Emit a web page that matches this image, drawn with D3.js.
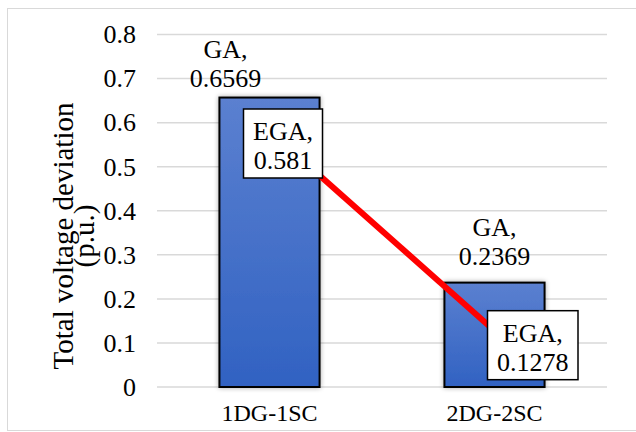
<!DOCTYPE html>
<html>
<head>
<meta charset="utf-8">
<script src="https://cdn.jsdelivr.net/npm/d3@7"></script>
</head>
<body style="margin:0;padding:0;background:#fff">
<svg id="chart" width="636" height="432"></svg>
<script>
// Data
const categories = ["1DG-1SC", "2DG-2SC"];
const gaValues = [0.6569, 0.2369];
const egaValues = [0.581, 0.1278];
const yTicks = [0, 0.1, 0.2, 0.3, 0.4, 0.5, 0.6, 0.7, 0.8];
const gaName = "GA";
const egaName = "EGA";
const yTitleLines = ["Total voltage deviation", "(p.u.)"];

// Label placement (offsets from the mark, in px)
const gaLabelDx = [-44, 0];
const gaLabelGap = [11, 18];
const egaBoxDx = [-26, -7];
const egaBoxDy = [-22, -20];

const FONT = "'Liberation Serif', 'Times New Roman', serif";
const plot = { left: 157, right: 607, top: 34.5, bottom: 387 };

const svg = d3.select("#chart").style("font-family", FONT);
const serif = sel => sel.style("font-family", FONT).style("fill", "#000");

// Outer frame
svg.append("rect")
  .attr("x", 7.5).attr("y", 8.5)
  .attr("width", 640).attr("height", 422)
  .attr("fill", "#fff").attr("stroke", "#d9d9d9").attr("stroke-width", 1);

const defs = svg.append("defs");
const grad = defs.append("linearGradient")
  .attr("id", "barGrad").attr("x1", 0).attr("y1", 0).attr("x2", 0).attr("y2", 1);
grad.append("stop").attr("offset", "0%").attr("stop-color", "#5b80d0");
grad.append("stop").attr("offset", "100%").attr("stop-color", "#3162c2");

const shadow = defs.append("filter").attr("id", "soft")
  .attr("x", "-20%").attr("y", "-20%").attr("width", "140%").attr("height", "140%");
shadow.append("feGaussianBlur").attr("in", "SourceAlpha").attr("stdDeviation", 2.5).attr("result", "b");
shadow.append("feComponentTransfer").attr("in", "b").attr("result", "s")
  .append("feFuncA").attr("type", "linear").attr("slope", 0.35);
const merge = shadow.append("feMerge");
merge.append("feMergeNode").attr("in", "s");
merge.append("feMergeNode").attr("in", "SourceGraphic");

const x = d3.scaleBand().domain(categories).range([plot.left, plot.right]).padding(0);
const y = d3.scaleLinear().domain([0, 0.8]).range([plot.bottom, plot.top]);
const barW = x.bandwidth() * 0.445;
const cx = c => x(c) + x.bandwidth() / 2;

// Gridlines
svg.append("g")
  .selectAll("line").data(yTicks).join("line")
  .attr("x1", plot.left).attr("x2", plot.right)
  .attr("y1", d => y(d)).attr("y2", d => y(d))
  .attr("stroke", "#d9d9d9").attr("stroke-width", 1.5);

// Y axis tick labels
const yAxis = d3.axisLeft(y).tickValues(yTicks)
  .tickFormat(d => d === 0 ? "0" : d3.format(".1f")(d))
  .tickSize(0).tickPadding(0);
const yg = svg.append("g").attr("transform", "translate(136,0)").call(yAxis);
yg.select(".domain").remove();
yg.selectAll("text").call(serif).style("font-size", "26px");

// Y axis title
const yTitle = svg.append("text")
  .attr("transform", "translate(73,236) rotate(-90)")
  .attr("text-anchor", "middle").call(serif).style("font-size", "29px");
yTitleLines.forEach((t, i) => {
  yTitle.append("tspan").attr("x", 0).attr("dy", i === 0 ? 0 : 21).text(t);
});

// Bars (GA)
svg.append("g").selectAll("rect").data(categories).join("rect")
  .attr("x", c => cx(c) - barW / 2)
  .attr("y", (c, i) => y(gaValues[i]))
  .attr("width", barW)
  .attr("height", (c, i) => y(0) - y(gaValues[i]))
  .attr("fill", "url(#barGrad)")
  .attr("stroke", "#000").attr("stroke-width", 2)
  .attr("filter", "url(#soft)");

// Category axis labels
const xAxis = d3.axisBottom(x).tickSize(0).tickPadding(0);
const xg = svg.append("g").attr("transform", "translate(0,404)").call(xAxis);
xg.select(".domain").remove();
xg.selectAll("text").call(serif).style("font-size", "24px");

// GA value labels
categories.forEach((c, i) => {
  const t = svg.append("text").attr("text-anchor", "middle").call(serif).style("font-size", "26px");
  const base = y(gaValues[i]) - gaLabelGap[i];
  t.append("tspan").attr("x", cx(c) + gaLabelDx[i]).attr("y", base - 29).text(gaName + ",");
  t.append("tspan").attr("x", cx(c) + gaLabelDx[i]).attr("y", base).text(String(gaValues[i]));
});

// EGA line
const line = d3.line().x((d, i) => cx(categories[i])).y(d => y(d));
svg.append("path").datum(egaValues)
  .attr("d", line)
  .attr("fill", "none").attr("stroke", "#ff0000").attr("stroke-width", 6);

// EGA value labels in boxes
categories.forEach((c, i) => {
  const px = cx(c), py = y(egaValues[i]);
  const g = svg.append("g").attr("transform", `translate(${px + egaBoxDx[i]},${py + egaBoxDy[i]})`);
  const valTxt = String(egaValues[i]);
  const tmp = g.append("text").call(serif).style("font-size", "26px").text(valTxt);
  const tw = Math.max(tmp.node().getComputedTextLength(), 60);
  tmp.remove();
  const bw = tw + 19, bh = 69;
  g.append("rect").attr("x", 0).attr("y", 0).attr("width", bw).attr("height", bh)
    .attr("fill", "#fff").attr("stroke", "#000").attr("stroke-width", 1.5);
  const t = g.append("text").attr("text-anchor", "middle").call(serif).style("font-size", "26px");
  t.append("tspan").attr("x", bw / 2).attr("y", 31).text(egaName + ",");
  t.append("tspan").attr("x", bw / 2).attr("y", 60).text(valTxt);
});
</script>
</body>
</html>
